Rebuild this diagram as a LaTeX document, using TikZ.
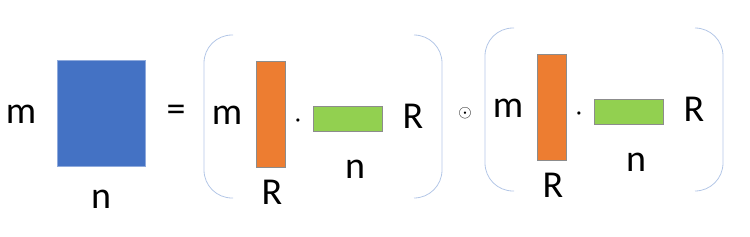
\documentclass[tikz,border=0pt]{standalone}
\usepackage{fontspec}
\usepackage{xcolor}
\usepackage{tikz}
\usetikzlibrary{positioning}
\setmainfont{Carlito}
\definecolor{matblue}{HTML}{4472C4}
\definecolor{matorange}{HTML}{ED7D31}
\definecolor{matgreen}{HTML}{92D050}
\definecolor{brackblue}{HTML}{B4C7E7}

\tikzset{
    dimlbl/.style={font=\fontsize{38}{38}\selectfont, anchor=base, inner sep=0pt},
    ranklbl/.style={font=\fontsize{38}{38}\selectfont, anchor=base, inner sep=0pt},
    matbox/.style={draw=black!45, line width=0.6pt, inner sep=0pt},
    brack/.style={draw=brackblue, line width=0.8pt, rounded corners=28pt}
}

\begin{document}
\begin{tikzpicture}[x=1pt, y=-1pt]
    \useasboundingbox (0,0) rectangle (750,236);

    % left hand side
    \node[matbox, fill=matblue, draw=matblue!60,
          minimum width=88pt, minimum height=106pt] (full) at (101,113) {};
    \node[dimlbl] (fullm) at (21,123) {m};
    \node[dimlbl] (fulln) at (101,208) {n};
    \node[font=\fontsize{38}{38}\selectfont, inner sep=0pt] (eq) at (176,113) {=};
    \node[inner sep=0pt] (had) at (465,113) {\fontsize{19}{19}\selectfont$\odot$};

    % the two factors
    \foreach \i/\dx/\dy in {1/0/0, 2/281/-7} {
      \begin{scope}[shift={(\dx,\dy)}]
        \node[matbox, fill=matorange,
              minimum width=29pt, minimum height=106pt] (u\i) at (270.5,114) {};
        \node[matbox, fill=matgreen,
              minimum width=69pt, minimum height=25pt] (v\i) at (347.5,118.5) {};
        \node[dimlbl] (um\i) at (227,124) {m};
        \node[ranklbl] (ur\i) at (272,204) {R};
        \node[dimlbl] (vn\i) at (355,178) {n};
        \node[ranklbl] (vr\i) at (413,128) {R};
        \node[anchor=base, inner sep=0pt] (dot\i) at (298,122)
          {\fontsize{8}{8}\selectfont$\bullet$};
        \draw[brack] (233,35) -- (204,35) -- (204,198) -- (233,198);
        \draw[brack] (414,35) -- (442,35) -- (442,198) -- (414,198);
      \end{scope}
    }
\end{tikzpicture}
\end{document}
